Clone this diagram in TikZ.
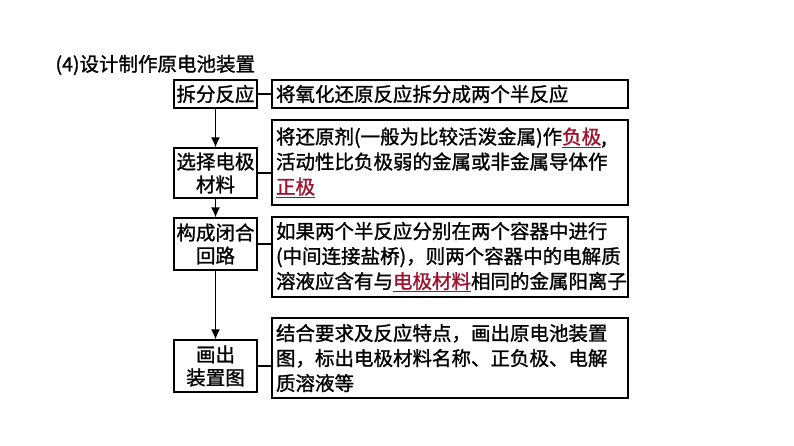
\documentclass[tikz,border=0pt]{standalone}
\usepackage{fontspec}
\setmainfont[FakeBold=1.2]{Noto Sans CJK SC}
\usetikzlibrary{arrows.meta}
\definecolor{hl}{HTML}{A0102A}
\newcommand{\hlw}[1]{\textcolor{hl}{\underline{#1}}}
\begin{document}
\begin{tikzpicture}[x=1pt,y=-1pt,
  lbox/.style={draw,line width=1.3pt,minimum width=83pt,inner sep=2pt,align=center,font=\fontsize{19.5}{23}\selectfont},
  rbox/.style={draw,line width=1.3pt,minimum width=356pt,inner sep=3pt,align=left,text width=348pt,font=\fontsize{19.5}{25}\selectfont},
  arr/.style={line width=1.3pt,-{Latex[length=10pt,width=9pt]}},
  ln/.style={line width=1.3pt}]
\useasboundingbox[fill=white] (0,0) rectangle (794,445);
\node[anchor=west,font=\fontsize{19.5}{23}\selectfont] (t) at (52,65) {(4)设计制作原电池装置};
\node[lbox,minimum height=28pt] (a) at (215.5,94) {拆分反应};
\node[lbox,minimum height=50pt] (b) at (215.5,173) {选择电极\\材料};
\node[lbox,minimum height=52pt] (c) at (215.5,244) {构成闭合\\回路};
\node[lbox,minimum height=52pt] (d) at (215.5,366) {画出\\装置图};
\node[rbox,minimum height=28pt] (ra) at (450,94) {将氧化还原反应拆分成两个半反应};
\node[rbox,minimum height=85pt] (rb) at (450,162.5) {将还原剂(一般为比较活泼金属)作\hlw{负极},\\活动性比负极弱的金属或非金属导体作\\\hlw{正极}};
\node[rbox,minimum height=80pt] (rc) at (450,257) {如果两个半反应分别在两个容器中进行\\(中间连接盐桥)，则两个容器中的电解质\\溶液应含有与\hlw{电极材料}相同的金属阳离子};
\node[rbox,minimum height=80pt] (rd) at (450,358) {结合要求及反应特点，画出原电池装置\\图，标出电极材料名称、正负极、电解\\质溶液等};
\draw[arr] (a) -- (b);
\draw[arr] (b) -- (c);
\draw[arr] (c) -- (d);
\draw[ln] (a) -- (ra);
\draw[ln] (b) -- (b-|rb.west);
\draw[ln] (c) -- (c-|rc.west);
\draw[ln] (d) -- (d-|rd.west);
\end{tikzpicture}
\end{document}
